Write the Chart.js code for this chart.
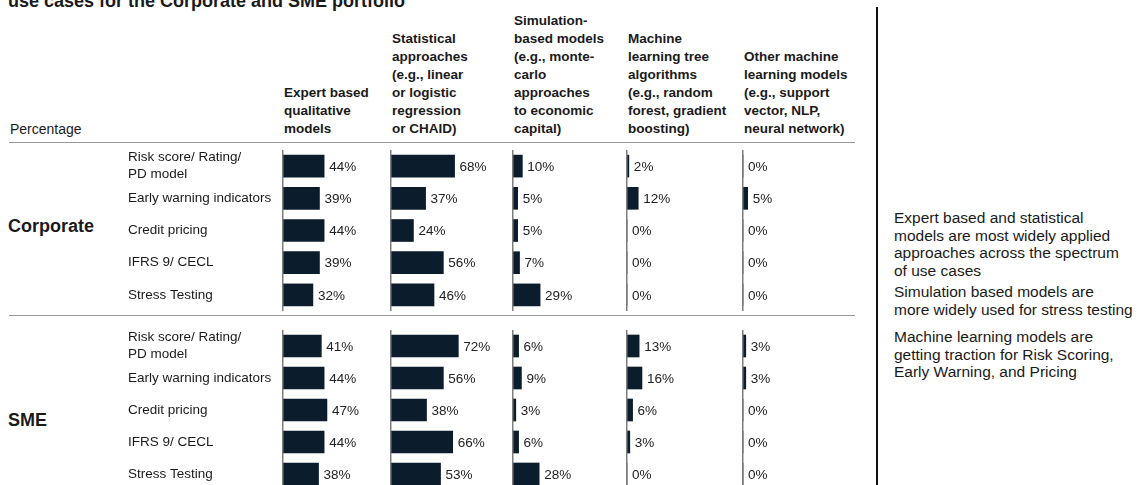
<!DOCTYPE html>
<html>
<head>
<meta charset="utf-8">
<script src="https://cdn.jsdelivr.net/npm/chart.js@4.4.1/dist/chart.umd.min.js"></script>
<style>
  body { margin: 0; width: 1137px; height: 485px; overflow: hidden; background: #fff; position: relative;
         font-family: "Liberation Sans", Arial, sans-serif; color: #1a1a1a; }
  .abs { position: absolute; white-space: nowrap; }
  #title { left: 8px; top: -8px; font-size: 18px; line-height: 18px; font-weight: bold; }
  .head { position: absolute; bottom: 0; font-size: 13.5px; line-height: 18px; font-weight: bold; white-space: nowrap; }
  #heads { position: absolute; left: 0; top: 12px; width: 860px; height: 126px; }
  .sep { position: absolute; left: 9px; width: 846px; height: 1px; background: #999; }
  .grp { position: absolute; left: 8px; font-size: 18px; font-weight: bold; line-height: 20px; }
  .box { position: absolute; left: 0; width: 860px; }
  #vline { position: absolute; left: 876px; top: 7px; width: 2px; height: 480px; background: #111; }
  .note { position: absolute; left: 894px; font-size: 15.5px; line-height: 17.7px; white-space: nowrap; }
</style>
</head>
<body>

<div id="title" class="abs">use cases for the Corporate and SME portfolio</div>
<div id="heads">
  <div class="head" style="left:10px;font-weight:normal;font-size:14px">Percentage</div>
</div>
<div class="sep" style="top:142px"></div>
<div class="sep" style="top:315px"></div>

<div class="grp" style="top:216px">Corporate</div>
<div class="grp" style="top:410px">SME</div>

<div class="box" style="top:150px;height:161px"><canvas id="corp" width="860" height="161"></canvas></div>
<div class="box" style="top:330px;height:160px"><canvas id="sme" width="860" height="160"></canvas></div>

<div id="vline"></div>
<div id="notes"></div>

<script>
// rows (use cases)
const useCases = [
  ['Risk score/ Rating/', 'PD model'],
  'Early warning indicators',
  'Credit pricing',
  'IFRS 9/ CECL',
  'Stress Testing'
];

// column headers (model types)
const modelHeaders = [
  ['Expert based', 'qualitative', 'models'],
  ['Statistical', 'approaches', '(e.g., linear', 'or logistic', 'regression', 'or CHAID)'],
  ['Simulation-', 'based models', '(e.g., monte-', 'carlo', 'approaches', 'to economic', 'capital)'],
  ['Machine', 'learning tree', 'algorithms', '(e.g., random', 'forest, gradient', 'boosting)'],
  ['Other machine', 'learning models', '(e.g., support', 'vector, NLP,', 'neural network)']
];

// % share per model type, one array per column, rows in useCases order
const corporateValues = [
  [44, 39, 44, 39, 32],
  [68, 37, 24, 56, 46],
  [10, 5, 5, 7, 29],
  [2, 12, 0, 0, 0],
  [0, 5, 0, 0, 0]
];
const smeValues = [
  [41, 44, 47, 44, 38],
  [72, 56, 38, 66, 53],
  [6, 9, 3, 6, 28],
  [13, 16, 6, 3, 0],
  [3, 3, 0, 0, 0]
];

const notes = [
  ['Expert based and statistical', 'models are most widely applied', 'approaches across the spectrum', 'of use cases'],
  ['Simulation based models are', 'more widely used for stress testing'],
  ['Machine learning models are', 'getting traction for Risk Scoring,', 'Early Warning, and Pricing']
];

// layout
const colWidths = [108, 122, 114, 116, 112];
const pxPerPct = 0.935;
const font = '"Liberation Sans", Arial, sans-serif';
const barColor = '#0b1d2d';

const zeroLines = {
  id: 'zeroLines',
  afterDatasetsDraw(chart) {
    const { ctx, chartArea } = chart;
    ctx.save();
    ctx.strokeStyle = '#7d7d7d';
    ctx.lineWidth = 1.5;
    Object.values(chart.scales).forEach(s => {
      if (s.axis !== 'x') return;
      const x = Math.round(s.getPixelForValue(0)) - 0.25;
      ctx.beginPath();
      ctx.moveTo(x, chartArea.top);
      ctx.lineTo(x, chartArea.bottom);
      ctx.stroke();
    });
    ctx.restore();
  }
};

const valueLabels = {
  id: 'valueLabels',
  afterDatasetsDraw(chart) {
    const ctx = chart.ctx;
    ctx.save();
    ctx.font = '13.5px ' + font;
    ctx.fillStyle = '#222';
    ctx.textAlign = 'left';
    ctx.textBaseline = 'middle';
    chart.data.datasets.forEach((ds, i) => {
      chart.getDatasetMeta(i).data.forEach((bar, j) => {
        ctx.fillText(ds.data[j] + '%', bar.x + 5, bar.y + 1);
      });
    });
    ctx.restore();
  }
};

function makeChart(id, values) {
  const scales = {
    y: {
      type: 'category',
      position: 'left',
      grid: { display: false },
      border: { display: false },
      ticks: { crossAlign: 'far', padding: 0, color: '#1a1a1a', autoSkip: false,
               font: { family: font, size: 13.5, lineHeight: 1.25 } },
      afterFit(s) { s.width = 155; s.paddingTop = 0; s.paddingBottom = 0; }
    }
  };
  values.forEach((v, i) => {
    scales['x' + i] = {
      type: 'linear', position: 'bottom', display: false,
      stack: 'cols', stackWeight: colWidths[i],
      min: 0, max: colWidths[i] / pxPerPct
    };
  });
  return new Chart(document.getElementById(id), {
    type: 'bar',
    data: {
      labels: useCases,
      datasets: values.map((v, i) => ({
        data: v, xAxisID: 'x' + i, yAxisID: 'y',
        backgroundColor: barColor, barThickness: 22, grouped: false
      }))
    },
    options: {
      indexAxis: 'y',
      responsive: false,
      animation: false,
      layout: { padding: { left: 128, right: 5, top: 0, bottom: 0 } },
      plugins: { legend: { display: false }, tooltip: { enabled: false } },
      scales
    },
    plugins: [zeroLines, valueLabels]
  });
}

const corpChart = makeChart('corp', corporateValues);
makeChart('sme', smeValues);

// headers aligned with each column's x scale
const heads = document.getElementById('heads');
modelHeaders.forEach((lines, i) => {
  const d = document.createElement('div');
  d.className = 'head';
  d.style.left = (corpChart.scales['x' + i].left + 1) + 'px';
  d.innerHTML = lines.join('<br>');
  heads.appendChild(d);
});

const noteTops = [209, 283, 328];
const notesEl = document.getElementById('notes');
notes.forEach((lines, i) => {
  const d = document.createElement('div');
  d.className = 'note';
  d.style.top = noteTops[i] + 'px';
  d.innerHTML = lines.join('<br>');
  notesEl.appendChild(d);
});
</script>
</body>
</html>
